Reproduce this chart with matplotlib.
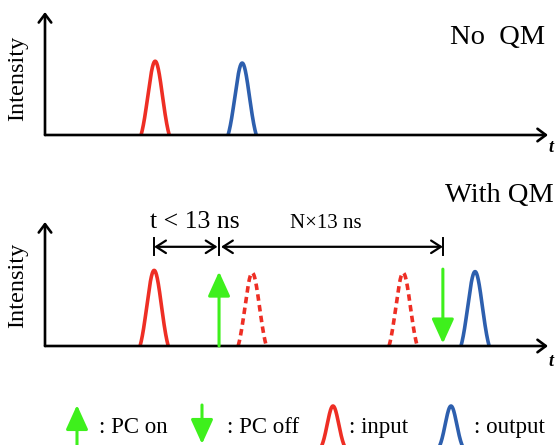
import numpy as np
import matplotlib.pyplot as plt

plt.rcParams['font.family'] = ['Liberation Serif', 'DejaVu Serif']

# pulse positions (arbitrary time units, axis runs 0..100) and heights
nqm_times = [21.9, 39.2]
nqm_heights = [0.60, 0.585]
nqm_colors = ['#ee2e24', '#2d5fae']

qm_input_t, qm_input_h = 21.7, 0.61
qm_stored_t = [41.2, 71.2]
qm_stored_h = [0.59, 0.59]
qm_output_t, qm_output_h = 85.5, 0.60
pc_on_t, pc_off_t = 34.6, 79.1
pc_on_h = 0.60
pc_off_top = 0.62

span_labels = ['t < 13 ns', 'N×13 ns']
legend_labels = [': PC on', ': PC off', ': input', ': output']

RED = '#ee2e24'
BLUE = '#2d5fae'
GREEN = '#3ef01c'
LW = 2.6


def pulse(c, h, half=2.8, sigma=1.45):
    x = np.linspace(c - half, c + half, 200)
    g = np.exp(-0.5 * ((x - c) / sigma) ** 2)
    g0 = np.exp(-0.5 * (half / sigma) ** 2)
    return x, h * (g - g0) / (1 - g0)


def draw_axes(ax):
    ax.set_xlim(0, 100)
    ax.set_ylim(0, 1)
    ax.axis('off')
    ap = dict(arrowstyle='->,head_length=6,head_width=4.5', mutation_scale=1,
              lw=1.9, color='black', shrinkA=0, shrinkB=0)
    ax.annotate('', xy=(100, 0), xytext=(0, 0), arrowprops=ap, annotation_clip=False)
    ax.annotate('', xy=(0, 1), xytext=(0, 0), arrowprops=ap, annotation_clip=False)


def green_arrow(ax, x, y0, y1):
    ax.annotate('', xy=(x, y1), xytext=(x, y0),
                arrowprops=dict(arrowstyle='-|>,head_length=15,head_width=6.8',
                                mutation_scale=1, lw=2.2, color=GREEN,
                                shrinkA=0, shrinkB=0),
                annotation_clip=False)


fig = plt.figure(figsize=(5.56, 4.45), dpi=100)

# panel 1: no quantum memory
ax1 = fig.add_axes([45 / 556, 1 - 135 / 445, 503 / 556, 123 / 445])
draw_axes(ax1)
for t, h, c in zip(nqm_times, nqm_heights, nqm_colors):
    ax1.plot(*pulse(t, h), color=c, lw=LW)
ax1.text(99.4, 0.74, 'No  QM', fontsize=20.5, ha='right', va='baseline')

# panel 2: with quantum memory
ax2 = fig.add_axes([45 / 556, 1 - 346 / 445, 503 / 556, 124 / 445])
draw_axes(ax2)
ax2.plot(*pulse(qm_input_t, qm_input_h), color=RED, lw=LW)
for t, h in zip(qm_stored_t, qm_stored_h):
    ax2.plot(*pulse(t, h), color=RED, lw=LW, dashes=(1.8, 1.2))
ax2.plot(*pulse(qm_output_t, qm_output_h), color=BLUE, lw=LW)
green_arrow(ax2, pc_on_t, 0, pc_on_h)
green_arrow(ax2, pc_off_t, pc_off_top, 0.02)

# time spans
span_y = 0.80
dap = dict(arrowstyle='<->,head_length=7,head_width=4.5', mutation_scale=1,
           lw=1.6, color='black', shrinkA=0, shrinkB=0)
ax2.annotate('', xy=(pc_on_t - 0.3, span_y), xytext=(qm_input_t, span_y),
             arrowprops=dap, annotation_clip=False)
ax2.annotate('', xy=(pc_off_t, span_y), xytext=(pc_on_t + 0.4, span_y),
             arrowprops=dap, annotation_clip=False)
for x in [qm_input_t, pc_on_t, pc_off_t]:
    ax2.plot([x, x], [0.73, 0.87], color='black', lw=1.4, clip_on=False)
ax2.text(29.8, 0.95, span_labels[0], fontsize=18.5, ha='center', va='baseline')
ax2.text(55.9, 0.95, span_labels[1], fontsize=15, ha='center', va='baseline')
ax2.text(101.2, 1.16, 'With QM', fontsize=20.5, ha='right', va='baseline')

# y labels and t labels
for yc in [78, 285]:
    fig.text(18 / 556, 1 - yc / 445, 'Intensity', rotation=90, fontsize=17.5,
             ha='center', va='center')
for yc in [147, 362]:
    fig.text(551 / 556, 1 - yc / 445, 't', fontsize=13, fontweight='bold',
             style='italic', ha='center', va='center')

# legend strip
axl = fig.add_axes([0, 0, 1, 45 / 445])
axl.set_xlim(0, 556)
axl.set_ylim(0, 45)
axl.axis('off')
green_arrow(axl, 77, 0, 40)
green_arrow(axl, 202, 40, 1)
axl.plot(*pulse(333, 39, half=11, sigma=5.8), color=RED, lw=LW)
axl.plot(*pulse(451, 39, half=11, sigma=5.8), color=BLUE, lw=LW)
for x, lab in zip([99, 227, 349, 474], legend_labels):
    axl.text(x, 12, lab, fontsize=16.5, ha='left', va='baseline')

fig.savefig('out.png', dpi=100)
